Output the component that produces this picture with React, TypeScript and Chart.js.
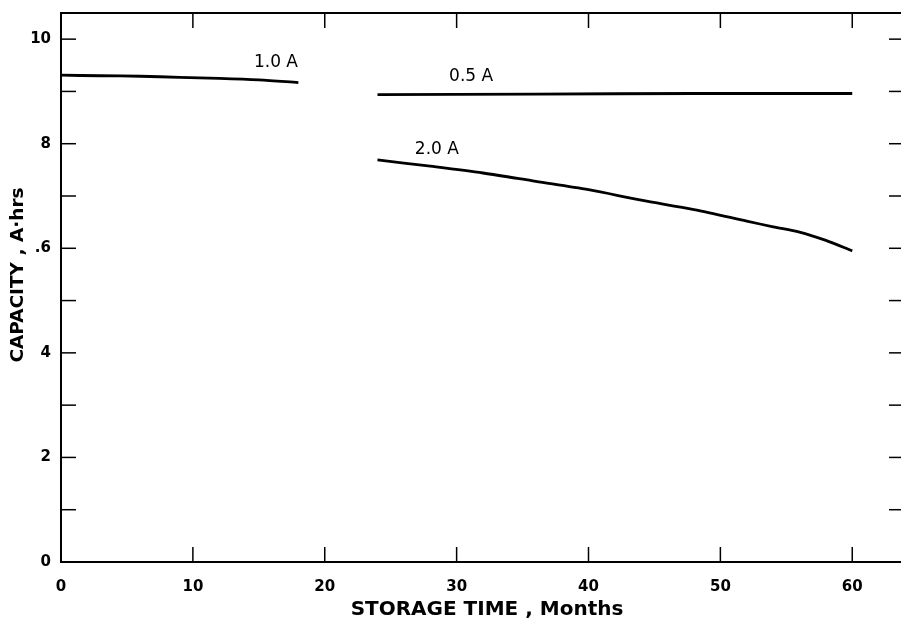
import React, { useEffect, useRef } from "react";
import { Chart, registerables } from "chart.js";

Chart.register(...registerables);

// ---- data ----
const months10A = [0, 3, 6, 9, 12, 15, 18];
const capacity10A = [9.31, 9.3, 9.29, 9.27, 9.25, 9.22, 9.17];

const months05A = [24, 36, 48, 60];
const capacity05A = [8.94, 8.95, 8.96, 8.96];

const months20A = [24, 28, 32, 36, 40, 44, 48, 52, 54, 56, 58, 60];
const capacity20A = [7.69, 7.57, 7.44, 7.28, 7.12, 6.92, 6.74, 6.52, 6.41, 6.31, 6.15, 5.95];

const seriesNames = ["1.0 A", "0.5 A", "2.0 A"];
// where each curve's name sits (in data units: month, capacity)
const nameMonths = [16.3, 31.1, 28.5];
const nameCapacities = [9.56, 9.28, 7.89];

const yTickValues = [0, 2, 4, 6, 8, 10];
const yTickText = ["0", "2", "4", ".6", "8", "10"];
const xTickValues = [0, 10, 20, 30, 40, 50, 60];

const xTitle = "STORAGE TIME , Months";
const yTitle = "CAPACITY , A\u00B7hrs";

const FONT = "'DejaVu Sans', 'Liberation Sans', Arial, sans-serif";

function zip(xs: number[], ys: number[]) {
  return xs.map((x, i) => ({ x, y: ys[i] }));
}

const framePlugin = {
  id: "frameTicks",
  afterDraw(chart: any) {
    const { ctx, chartArea, scales } = chart;
    const { left, right, top, bottom } = chartArea;
    const x = scales.x;
    const y = scales.y;
    ctx.save();
    ctx.strokeStyle = "#000";
    ctx.lineCap = "butt";
    // top frame line
    ctx.lineWidth = 2;
    ctx.beginPath();
    ctx.moveTo(left - 1, top);
    ctx.lineTo(right, top);
    ctx.stroke();
    // tick marks
    ctx.lineWidth = 1.5;
    const seg = (x1: number, y1: number, x2: number, y2: number) => {
      ctx.beginPath();
      ctx.moveTo(x1, y1);
      ctx.lineTo(x2, y2);
      ctx.stroke();
    };
    for (let v = 1; v <= 10; v++) {
      const py = y.getPixelForValue(v);
      seg(left, py, left + 15, py);
      seg(right - 16, py, right, py);
    }
    for (const v of xTickValues) {
      if (v === 0) continue;
      const px = x.getPixelForValue(v);
      seg(px, bottom, px, bottom - 15);
      seg(px, top, px, top + 15);
    }
    // curve names
    ctx.fillStyle = "#000";
    ctx.font = `17px ${FONT}`;
    ctx.textAlign = "center";
    ctx.textBaseline = "middle";
    seriesNames.forEach((name, i) => {
      ctx.fillText(name, x.getPixelForValue(nameMonths[i]), y.getPixelForValue(nameCapacities[i]));
    });
    // axis titles
    ctx.font = `bold 20px ${FONT}`;
    ctx.fillText(xTitle, 487, 610);
    ctx.save();
    ctx.translate(18, 275);
    ctx.rotate(-Math.PI / 2);
    ctx.font = `bold 18.5px ${FONT}`;
    ctx.fillText(yTitle, 0, 0);
    ctx.restore();
    ctx.restore();
  },
};

export default function App() {
  const canvasRef = useRef<HTMLCanvasElement | null>(null);

  useEffect(() => {
    const canvas = canvasRef.current;
    if (!canvas) return;
    const lineStyle = {
      borderColor: "#000",
      backgroundColor: "#000",
      borderWidth: 2.8,
      pointRadius: 0,
      tension: 0.3,
      fill: false,
      showLine: true,
    };
    const chart = new Chart(canvas, {
      type: "scatter",
      data: {
        datasets: [
          { label: seriesNames[0], data: zip(months10A, capacity10A), ...lineStyle },
          { label: seriesNames[1], data: zip(months05A, capacity05A), ...lineStyle },
          { label: seriesNames[2], data: zip(months20A, capacity20A), ...lineStyle },
        ],
      },
      options: {
        animation: false,
        responsive: false,
        devicePixelRatio: 1,
        layout: { padding: { top: 13, right: 1, left: 0, bottom: 0 } },
        plugins: {
          legend: { display: false },
          tooltip: { enabled: false },
        },
        scales: {
          x: {
            type: "linear",
            min: 0,
            max: 64,
            grid: { display: false, drawTicks: false },
            border: { display: true, color: "#000", width: 2 },
            afterBuildTicks: (scale: any) => {
              scale.ticks = xTickValues.map((v) => ({ value: v }));
            },
            afterFit: (scale: any) => {
              scale.height = 59;
              scale.paddingLeft = 0;
              scale.paddingRight = 0;
            },
            ticks: {
              color: "#000",
              padding: 16,
              maxRotation: 0,
              autoSkip: false,
              font: { family: FONT, size: 15, weight: "bold" },
              callback: (v: any) => String(v),
            },
            title: { display: false },
          },
          y: {
            type: "linear",
            min: 0,
            max: 10.5,
            grid: { display: false, drawTicks: false },
            border: { display: true, color: "#000", width: 2 },
            afterBuildTicks: (scale: any) => {
              scale.ticks = yTickValues.map((v) => ({ value: v }));
            },
            afterFit: (scale: any) => {
              scale.width = 61;
              scale.paddingTop = 0;
              scale.paddingBottom = 0;
            },
            ticks: {
              color: "#000",
              padding: 10,
              autoSkip: false,
              font: { family: FONT, size: 15, weight: "bold" },
              callback: (v: any) => {
                const i = yTickValues.indexOf(Number(v));
                return i >= 0 ? yTickText[i] : "";
              },
            },
            title: { display: false },
          },
        },
      },
      plugins: [framePlugin],
    } as any);
    return () => chart.destroy();
  }, []);

  return (
    <div
      style={{
        position: "fixed",
        left: 0,
        top: 0,
        width: 901,
        height: 621,
        overflow: "hidden",
        background: "#fff",
      }}
    >
      <canvas ref={canvasRef} width={906} height={621} style={{ display: "block", width: 906, height: 621 }} />
    </div>
  );
}
